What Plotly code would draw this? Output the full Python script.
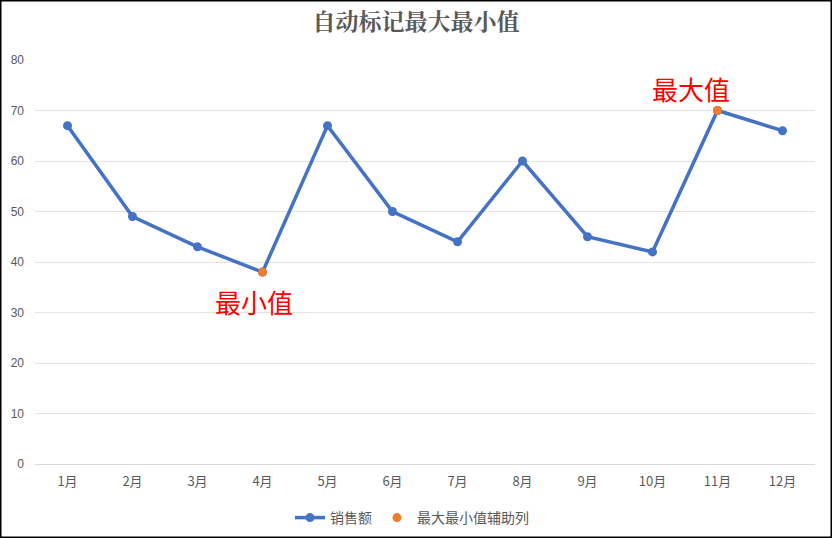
import plotly.graph_objects as go

months = ["1月", "2月", "3月", "4月", "5月", "6月", "7月", "8月", "9月", "10月", "11月", "12月"]
sales = [67, 49, 43, 38, 67, 50, 44, 60, 45, 42, 70, 66]
helper = [None, None, None, 38, None, None, None, None, None, None, 70, None]
labels = ["最小值", "最大值"]

W, H = 832, 538
ml, mr, mt, mb = 35, 17, 60, 74
pw, ph = W - ml - mr, H - mt - mb

fig = go.Figure()
fig.add_trace(go.Scatter(
    x=months, y=sales, mode="lines+markers", name="销售额",
    line=dict(color="#4472C4", width=3.5),
    marker=dict(size=9, color="#4472C4"),
))
fig.add_trace(go.Scatter(
    x=months, y=helper, mode="markers", name="最大最小值辅助列",
    marker=dict(size=9, color="#ED7D31"),
))

font_cjk = "Noto Sans CJK SC, Microsoft YaHei, sans-serif"

fig.add_annotation(x=months[3], y=32.1, text=labels[0], showarrow=False, xshift=-9,
                   font=dict(family=font_cjk, size=26, color="#FF0000"))
fig.add_annotation(x=months[10], y=74.3, text=labels[1], showarrow=False, xshift=-27,
                   font=dict(family=font_cjk, size=26, color="#FF0000"))

fig.add_shape(type="rect", xref="paper", yref="paper",
              x0=(0.75 - ml) / pw, x1=(W - 0.75 - ml) / pw,
              y0=-(mb - 0.75) / ph, y1=1 + (mt - 0.75) / ph,
              line=dict(color="#000000", width=1.5), layer="above")

fig.update_layout(
    width=W, height=H,
    margin=dict(l=ml, r=mr, t=mt, b=mb, autoexpand=False),
    paper_bgcolor="white", plot_bgcolor="white",
    title=dict(text="<b>自动标记最大最小值</b>", x=0.5, xanchor="center", y=1 - 22 / H, yanchor="middle",
               font=dict(family="Noto Serif CJK SC, Noto Sans CJK SC, serif", size=23, color="#595959")),
    font=dict(family=font_cjk, size=12, color="#595959"),
    xaxis=dict(type="category", range=[-0.5, 11.5], showgrid=False, showline=True, linecolor="#D9D9D9",
               linewidth=1, ticks="", ticklabelstandoff=5, tickfont=dict(size=13, color="#595959"),
               zeroline=False, automargin=False),
    yaxis=dict(range=[0, 80], dtick=10, showgrid=True, gridcolor="#E3E3E3", gridwidth=1,
               zeroline=False, showline=False, ticks="", ticklabelstandoff=10, automargin=False,
               tickfont=dict(family="Liberation Sans, Arial", size=12, color="#595959")),
    legend=dict(orientation="h", x=0.5 - 13 / pw, xanchor="center", yref="container", y=(H - 518) / H,
                yanchor="middle", font=dict(size=14, color="#595959")),
    showlegend=True,
)

fig.write_html("out.html")
